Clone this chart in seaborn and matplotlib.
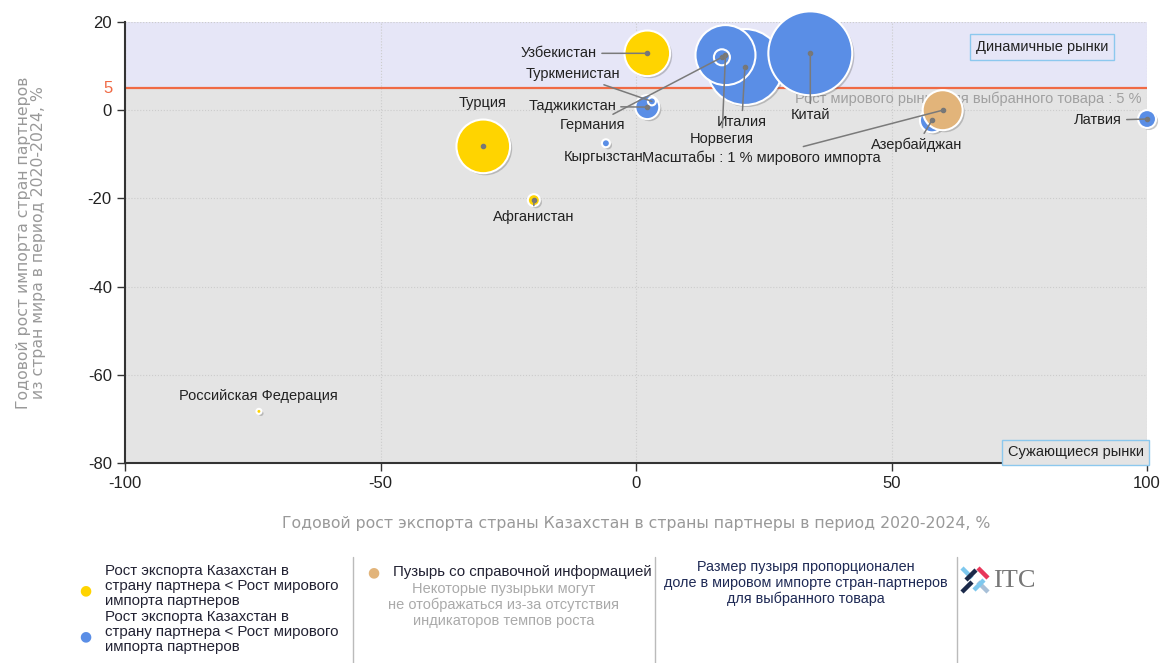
# ===================== IMPORTS =====================
import numpy as np
import pandas as pd
import seaborn as sns
import matplotlib.pyplot as plt
from matplotlib import patheffects as pe
from matplotlib.lines import Line2D

sns.set_style("white")
plt.rcParams["font.family"] = ["Liberation Sans", "DejaVu Sans"]
plt.rcParams["axes.unicode_minus"] = False

# ===================== DATA =====================
names = ["Российская Федерация", "Турция", "Афганистан", "Кыргызстан", "Узбекистан",
         "Таджикистан", "Туркменистан", "Италия", "Норвегия", "Германия",
         "Китай", "Азербайджан", "Латвия"]
export_growth = [-73.8, -29.9, -20.0, -5.9, 2.2, 2.2, 3.1, 21.3, 17.5, 16.8, 34.1, 57.9, 100.0]
import_growth = [-68.3, -8.2, -20.4, -7.5, 12.9, 0.7, 2.0, 9.8, 12.5, 12.0, 12.9, -2.3, -2.0]
world_share = [0.016, 1.8, 0.09, 0.04, 1.3, 0.36, 0.04, 3.6, 2.25, 0.16, 4.4, 0.36, 0.2]
group = ["yellow", "yellow", "yellow", "blue", "yellow", "blue", "blue",
         "blue", "blue", "blue", "blue", "blue", "blue"]

# reference bubble (1 % of world import)
ref_label = "Масштабы : 1 % мирового импорта"
ref_x, ref_y, ref_share = 60.0, 0.0, 1.0

world_growth = 5

df = pd.DataFrame({"name": names, "x": export_growth, "y": import_growth,
                   "share": world_share, "group": group})
df = pd.concat([df, pd.DataFrame({"name": [ref_label], "x": [ref_x], "y": [ref_y],
                                  "share": [ref_share], "group": ["ref"]})],
               ignore_index=True)
# reference bubble drawn after Azerbaijan, before Latvia
df = df.iloc[[0, 1, 2, 3, 4, 5, 6, 7, 8, 9, 10, 11, 13, 12]].reset_index(drop=True)

palette = {"yellow": "#FFD400", "blue": "#5A8EE6", "ref": "#E2B47A"}

# label placement (text position, alignment, leader line)
label_pos = {
    "Российская Федерация": (-74, -64.9, "center", False),
    "Турция": (-30, 1.6, "center", False),
    "Афганистан": (-20, -24.3, "center", True),
    "Кыргызстан": (-6.3, -10.7, "center", False),
    "Узбекистан": (-7.6, 12.9, "right", True),
    "Таджикистан": (-3.9, 0.9, "right", True),
    "Туркменистан": (-3.1, 8.2, "right", True),
    "Италия": (20.7, -2.7, "center", True),
    "Норвегия": (16.8, -6.6, "center", True),
    "Германия": (-2.2, -3.4, "right", True),
    "Китай": (34.1, -1.1, "center", True),
    "Азербайджан": (55.0, -7.9, "center", True),
    "Латвия": (95.1, -2.3, "right", True),
    ref_label: (24.6, -10.7, "center", True),
}

# ===================== FIGURE =====================
fig = plt.figure(figsize=(11.61, 6.63), dpi=100)
ax = fig.add_axes([0.1077, 0.3017, 0.8803, 0.6651])

ax.axhspan(world_growth, 20, color="#E6E6F7", zorder=0, lw=0)
ax.axhspan(-80, world_growth, color="#E4E4E4", zorder=0, lw=0)
ax.axhline(world_growth, color="#F06A45", lw=1.6, zorder=1)

max_share = max(df["share"])
s_one = (2 * 20 * 0.72) ** 2   # 1 % bubble has radius ~20 px

sns.scatterplot(data=df, x="x", y="y", hue="group", palette=palette,
                size="share", sizes=(0, s_one * max_share), size_norm=(0, max_share),
                edgecolor="white", linewidth=1.5, alpha=1, legend=False, ax=ax, zorder=3)
for coll in ax.collections:
    coll.set_clip_on(False)
    coll.set_path_effects([pe.SimplePatchShadow(offset=(1.5, -1.5), shadow_rgbFace="#666666", alpha=0.35),
                           pe.Normal()])

# centre dots for bubbles with leader lines
for _, row in df.iterrows():
    if row["share"] > 0.05:
        ax.plot(row["x"], row["y"], "o", ms=3, color="#777777", zorder=4, clip_on=False)

# ===================== LABELS =====================
for _, row in df.iterrows():
    tx, ty, ha, line = label_pos[row["name"]]
    if line:
        ax.annotate(row["name"], xy=(row["x"], row["y"]), xytext=(tx, ty), ha=ha, va="center",
                    fontsize=10.5, color="#222222", zorder=5,
                    arrowprops=dict(arrowstyle="-", color="#7a7a7a", lw=1.1, shrinkA=1, shrinkB=0))
    else:
        ax.text(tx, ty, row["name"], ha=ha, va="center", fontsize=10.5, color="#222222", zorder=5)

ax.text(99, 2.6, "Рост мирового рынка для выбранного товара : 5 %", ha="right", va="center",
        fontsize=10.5, color="#A0A0A0", zorder=2)
ax.text(79.5, 14.3, "Динамичные рынки", ha="center", va="center", fontsize=10.5, color="#222222",
        zorder=5, bbox=dict(boxstyle="square,pad=0.4", fc="#E6E6F7", ec="#8CC8EE", lw=1))
ax.text(86.0, -77.6, "Сужающиеся рынки", ha="center", va="center", fontsize=10.5, color="#222222",
        zorder=5, bbox=dict(boxstyle="square,pad=0.4", fc="#E4E4E4", ec="#8CC8EE", lw=1))

# ===================== AXES =====================
ax.set_xlim(-100, 100)
ax.set_ylim(-80, 20)
ax.set_xticks([-100, -50, 0, 50, 100])
ax.set_yticks([-80, -60, -40, -20, 0, 20])
ax.tick_params(axis="both", labelsize=12, labelcolor="#222222", length=6, width=1,
               direction="out", color="#333333", left=True, bottom=True)
ax.grid(True, color="#CCCCCC", ls=":", lw=0.8)
ax.set_axisbelow(True)
for side in ["top", "right"]:
    ax.spines[side].set_visible(False)
for side in ["left", "bottom"]:
    ax.spines[side].set_color("#333333")
    ax.spines[side].set_linewidth(1.5)
ax.text(-0.012, world_growth, "5", transform=ax.get_yaxis_transform(), ha="right", va="center",
        fontsize=12, color="#F06A45")

ax.set_xlabel("Годовой рост экспорта страны Казахстан в страны партнеры в период 2020-2024, %",
              fontsize=11.3, color="#999999", labelpad=18, family="DejaVu Sans")
ax.set_ylabel("Годовой рост импорта стран партнеров\nиз стран мира в период 2020-2024, %",
              fontsize=11.3, color="#999999", labelpad=30, family="DejaVu Sans",
              linespacing=1.0)

# ===================== LEGEND PANEL =====================
W, H = 1161, 663
def fx(p): return p / W
def fy(p): return 1 - p / H

for xp in [353, 655, 957]:
    fig.add_artist(Line2D([fx(xp), fx(xp)], [fy(557), fy(663)], color="#BBBBBB", lw=1))

legend_txt = "Рост экспорта Казахстан в\nстрану партнера < Рост мирового\nимпорта партнеров"
fig.text(fx(85), fy(590), "●", color=palette["yellow"], fontsize=10, ha="center", va="center",
         family="DejaVu Sans")
fig.text(fx(105), fy(586), legend_txt, fontsize=10.8, color="#222233", ha="left", va="center",
         linespacing=1.12)
fig.text(fx(85), fy(636), "●", color=palette["blue"], fontsize=10, ha="center", va="center",
         family="DejaVu Sans")
fig.text(fx(105), fy(632), legend_txt, fontsize=10.8, color="#222233", ha="left", va="center",
         linespacing=1.12)

fig.text(fx(373), fy(572), "●", color=palette["ref"], fontsize=10, ha="center", va="center",
         family="DejaVu Sans")
fig.text(fx(393), fy(572), "Пузырь со справочной информацией", fontsize=10.8, color="#222233",
         ha="left", va="center")
fig.text(fx(504), fy(605), "Некоторые пузырьки могут\nне отображаться из-за отсутствия\nиндикаторов темпов роста",
         fontsize=10.5, color="#AAAAAA", ha="center", va="center", linespacing=1.12)

fig.text(fx(806), fy(583), "Размер пузыря пропорционален\nдоле в мировом импорте стран-партнеров\nдля выбранного товара",
         fontsize=10.4, color="#1F2A55", ha="center", va="center", linespacing=1.12)

# ITC logo
logo = [((962, 568), (972, 578), "#7EC8EE"), ((978, 568), (988, 578), "#E8365A"),
        ((962, 592), (972, 582), "#1B2A4A"), ((978, 582), (988, 592), "#A8C0D8"),
        ((966, 580), (976, 570), "#1B2A4A"), ((974, 590), (984, 580), "#7EC8EE")]
for (x0, y0), (x1, y1), c in logo:
    fig.add_artist(Line2D([fx(x0), fx(x1)], [fy(y0), fy(y1)], color=c, lw=3.2,
                          solid_capstyle="butt"))
fig.text(fx(993), fy(581), "ITC", fontsize=19, color="#777777", ha="left", va="center",
         family="Liberation Serif")

plt.savefig("out.png", dpi=100)
